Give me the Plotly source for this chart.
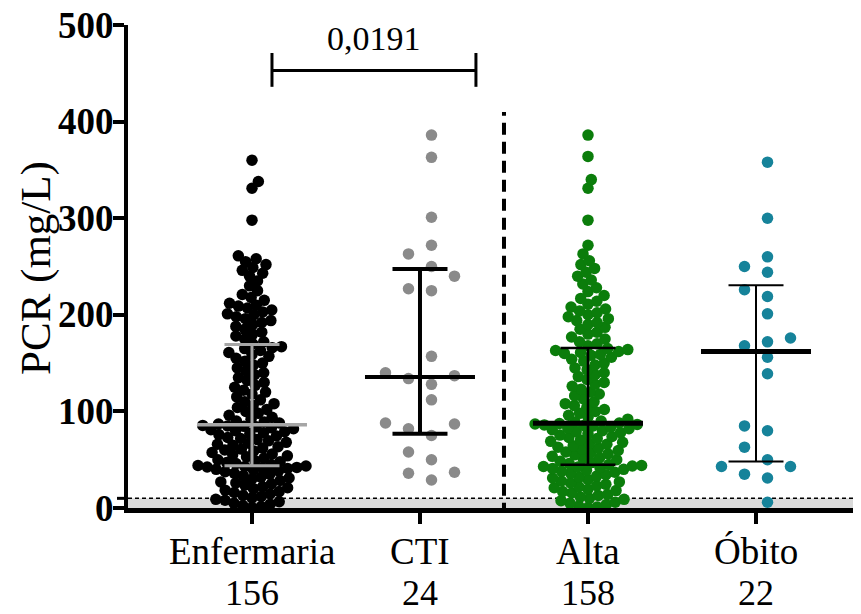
import math
import numpy as np
import plotly.graph_objects as go

# ---------------- data ----------------
categories = ["Enfermaria", "CTI", "Alta", "Óbito"]
counts = ["156", "24", "158", "22"]
y_ticks = [0, 100, 200, 300, 400, 500]

enfermaria = [
    0.5, 1.5, 2.5, 4, 5, 6.5, 8, 9, 10.5, 12,
    13, 14.5, 16, 17, 18.5, 20, 21, 22, 23.5, 25,
    26, 27, 28.5, 30, 31, 32, 33.5, 35, 36, 37.5,
    38.5, 39.5, 40, 41, 41.5, 42, 42.5, 43, 43.5,
    44, 45, 46, 47, 48, 49, 50, 51.5, 53, 54,
    55, 56, 57.5, 59, 60, 61, 62, 63.5, 65, 66,
    67, 68, 69.5, 71, 72, 73, 74.5, 76, 77, 78,
    79, 80, 81, 82, 83, 84, 84.5, 85, 85.5,
    87, 88, 89, 90, 92, 94, 96, 98, 100, 102,
    104, 106, 108, 110, 112, 115, 118, 120, 122, 125,
    127, 130, 132, 135, 138, 140, 142, 145, 148, 150,
    152, 155, 157, 159, 161, 163, 165, 166, 167,
    170, 172, 175, 178, 180, 182, 185, 188, 190, 192,
    194, 196, 198, 200, 201, 203, 205, 207, 209, 210,
    212, 215, 218, 221, 225, 230, 235, 240, 243, 246,
    249, 252, 255, 258, 261,
    298, 331, 338, 360,
]

cti = [29, 36, 37, 50, 58, 75, 82, 87, 88, 112, 128, 134,
       137, 140, 157, 225, 227, 240, 250, 263, 272, 301, 363, 386]

alta = [
    0.5, 1, 2, 3.5, 5, 6, 7.5, 9, 10, 11.5,
    13, 14, 15.5, 17, 18, 19.5, 21, 22, 23, 24.5,
    26, 27, 28, 29.5, 31, 32, 33, 34.5, 36, 37,
    38, 39, 40, 41, 42, 42.5, 43, 43.5, 44,
    45, 46, 47, 48.5, 50, 51, 52, 53.5, 55, 56,
    57, 58, 59.5, 61, 62, 63, 64.5, 66, 67, 68,
    69, 70.5, 72, 73, 74, 75.5, 77, 78, 79, 80,
    81, 82, 83, 84, 85, 85.5, 86, 86.5, 87, 87.5,
    88, 89, 90, 92, 94, 96, 98, 100, 102, 104,
    106, 108, 110, 113, 116, 118, 120, 123, 126, 128,
    130, 133, 136, 138, 140, 143, 145, 148, 150, 152,
    154, 156, 158, 159, 160, 161, 162, 163, 164, 165,
    168, 170, 172, 175, 177, 180, 182, 185, 187, 190,
    192, 194, 196, 198, 200, 202, 204, 206, 208, 211,
    214, 217, 220, 224, 228, 232, 236, 240, 244, 248,
    252, 256,
    263, 272, 298, 331, 340, 364, 386,
]

obito = [6, 31, 35, 43, 43, 50, 63, 80, 85, 139, 156, 168,
         172, 176, 201, 219, 226, 244, 250, 260, 300, 358]

reference_limit = 10
p_value_text = "0,0191"

groups = [enfermaria, cti, alta, obito]

# ---------------- styles / layout constants ----------------
# the page body has an 8px margin, so the figure is shrunk/shifted by 8px
OFF = 8
W, H = 861 - OFF, 614 - OFF
ML, MR, MT = 128 - OFF, 0, 25 - OFF
PW, PH = W - ML - MR, 483
MB = H - MT - PH
Y_MAX = 500
X_RANGE = [-0.738, 3.625]
PX_PER_X = PW / (X_RANGE[1] - X_RANGE[0])
PX_PER_Y = PH / Y_MAX
AXIS_Y = 508  # screen y of the x axis

colors = ["#000000", "#8a8a8a", "#0b7d0b", "#16839a"]
bar_colors = ["#a6a6a6", "#000000", "#000000", "#000000"]
median_w = [3.5, 4, 5, 5]
whisk_w = [3, 4, 2.5, 2]
FONT = "Liberation Serif"
MSIZE = 11.5


def swarm(vals, d):
    vals = np.asarray(vals, float)
    order = np.argsort(vals, kind="stable")
    xs = np.zeros(len(vals))
    placed = []
    for i in order:
        y = vals[i] * PX_PER_Y
        cands = [0.0]
        for px, py in placed:
            dy = abs(py - y)
            if dy < d:
                dx = math.sqrt(d * d - dy * dy)
                cands += [px + dx, px - dx]
        cands.sort(key=lambda c: (abs(c), -c))
        for c in cands:
            if all((c - px) ** 2 + (y - py) ** 2 >= d * d - 1e-6 for px, py in placed):
                xs[i] = c
                placed.append((c, y))
                break
    return xs


def grid_swarm(vals, step, dmin):
    vals = np.asarray(vals, float)
    order = np.argsort(vals, kind="stable")
    cols = [0.5, -0.5, 1.5, -1.5, 2.5, -2.5, 3.5, -3.5]
    xs = np.zeros(len(vals))
    placed = []
    for i in order:
        y = vals[i] * PX_PER_Y
        for c in cols:
            x = c * step
            if all(abs(px - x) > 1e-6 or abs(py - y) >= dmin for px, py in placed):
                xs[i] = x
                placed.append((x, y))
                break
    return xs


fig = go.Figure()

# reference band
fig.add_shape(type="rect", xref="paper", x0=0, x1=1, y0=0, y1=reference_limit,
              fillcolor="#dadada", line=dict(width=0), layer="below")
fig.add_shape(type="line", xref="paper", x0=0, x1=1, y0=reference_limit, y1=reference_limit,
              line=dict(color="black", width=1.5, dash="4px,3px"), layer="below")

for gi, vals in enumerate(groups):
    if len(vals) > 60:
        offs = swarm(vals, 9.3)
    else:
        offs = grid_swarm(vals, 23.0, 15.0)
    xs = gi + offs / PX_PER_X
    fig.add_trace(go.Scatter(
        x=xs, y=vals, mode="markers", cliponaxis=False, showlegend=False,
        marker=dict(size=MSIZE, color=colors[gi], line=dict(width=0)),
        hoverinfo="y",
    ))

for gi, vals in enumerate(groups):
    q1, med, q3 = np.percentile(vals, [25, 50, 75], method="weibull")
    hm = 55 / PX_PER_X
    hc = 27.5 / PX_PER_X
    fig.add_trace(go.Scatter(
        x=[gi, gi, None, gi - hc, gi + hc, None, gi - hc, gi + hc],
        y=[q1, q3, None, q1, q1, None, q3, q3],
        mode="lines", line=dict(color=bar_colors[gi], width=whisk_w[gi]),
        showlegend=False, hoverinfo="skip", cliponaxis=False,
    ))
    fig.add_trace(go.Scatter(
        x=[gi - hm, gi + hm], y=[med, med],
        mode="lines", line=dict(color=bar_colors[gi], width=median_w[gi]),
        showlegend=False, hoverinfo="skip", cliponaxis=False,
    ))

# dashed separator
fig.add_shape(type="line", x0=1.5, x1=1.5, y0=-7, y1=410,
              line=dict(color="black", width=4, dash="12px,7px"), layer="above")

# significance bracket
bx0, bx1 = 0.119, 1.333
by = 453
fig.add_shape(type="line", x0=bx0, x1=bx1, y0=by, y1=by, line=dict(color="black", width=3))
for bx in (bx0, bx1):
    fig.add_shape(type="line", x0=bx, x1=bx, y0=by - 17, y1=by + 18,
                  line=dict(color="black", width=3))
fig.add_annotation(x=(bx0 + bx1) / 2, y=by + 12, text=p_value_text, showarrow=False,
                   yanchor="bottom", font=dict(family=FONT, size=34, color="black"))

# extra tick at reference level on y axis
fig.add_shape(type="line", xref="paper", x0=-11 / PW, x1=0, y0=reference_limit,
              y1=reference_limit, line=dict(color="black", width=3))

# y tick labels (bold, tight to the ticks)
for v in y_ticks:
    fig.add_annotation(xref="paper", x=-12 / PW, y=v, text=f"<b>{v}</b>",
                       xanchor="right", yanchor="middle", showarrow=False,
                       font=dict(family=FONT, size=37, color="black"))

# y axis title
fig.add_annotation(xref="paper", yref="paper", x=(36 - 128) / PW, y=0.497,
                   xanchor="center", yanchor="middle",
                   text="PCR (mg/L)", textangle=-90, showarrow=False,
                   font=dict(family=FONT, size=43, color="black"))

# category names and group sizes under the axis
for gi, (c, n) in enumerate(zip(categories, counts)):
    fig.add_annotation(x=gi, yref="paper", y=(AXIS_Y - 551) / PH, text=c,
                       xanchor="center", yanchor="middle", showarrow=False,
                       font=dict(family=FONT, size=37, color="black"))
    fig.add_annotation(x=gi, yref="paper", y=(AXIS_Y - 593) / PH, text=n,
                       xanchor="center", yanchor="middle", showarrow=False,
                       font=dict(family=FONT, size=36, color="black"))

fig.update_layout(
    width=W, height=H,
    margin=dict(l=ML, r=MR, t=MT, b=MB),
    plot_bgcolor="white", paper_bgcolor="white",
    xaxis=dict(range=X_RANGE, tickvals=[0, 1, 2, 3], showticklabels=False,
               automargin=False,
               showgrid=False, zeroline=False, showline=True, linecolor="black",
               linewidth=5, ticks="outside", ticklen=11, tickwidth=4, tickcolor="black"),
    yaxis=dict(range=[0, Y_MAX], tickvals=y_ticks, showticklabels=False,
               automargin=False,
               showgrid=False, zeroline=False, showline=True, linecolor="black",
               linewidth=4, ticks="outside", ticklen=11, tickwidth=4, tickcolor="black"),
)

fig.write_html("out.html")
